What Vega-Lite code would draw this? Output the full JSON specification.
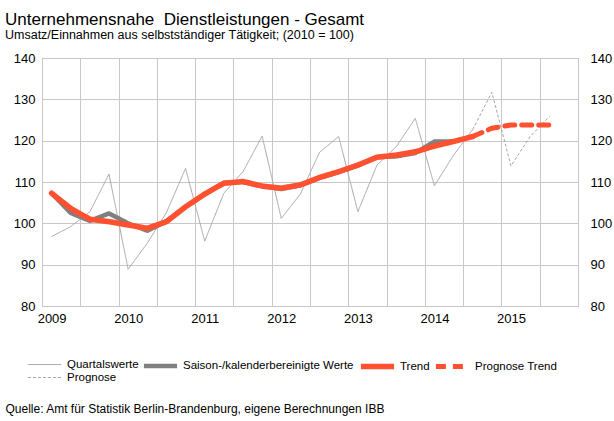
{
  "$schema": "https://vega.github.io/schema/vega-lite/v6.json",
  "width": 536,
  "height": 248,
  "autosize": {"type": "none"},
  "padding": {"left": 42, "top": 58, "right": 36, "bottom": 115},
  "background": "white",
  "title": {
    "text": "Unternehmensnahe\u00a0 Dienstleistungen - Gesamt",
    "subtitle": "Umsatz/Einnahmen aus selbstständiger Tätigkeit; (2010 = 100)",
    "anchor": "start",
    "frame": "group",
    "dx": -37,
    "offset": 10,
    "font": "Liberation Sans",
    "fontSize": 17,
    "fontWeight": "normal",
    "color": "#000000",
    "subtitleFont": "Liberation Sans",
    "subtitleFontSize": 12.5,
    "subtitleColor": "#000000",
    "subtitlePadding": 0
  },
  "config": {
    "view": {"stroke": "#a6a6a6", "strokeWidth": 1},
    "font": "Liberation Sans",
    "axis": {
      "labelFont": "Liberation Sans",
      "labelFontSize": 13,
      "labelColor": "#000000",
      "gridColor": "#c8c8c8",
      "gridWidth": 1,
      "domain": false,
      "ticks": false
    }
  },
  "datasets": {
    "d": [
      {"t": 2009.0, "series": "Quartalswerte", "v": 96.8},
      {"t": 2009.25, "series": "Quartalswerte", "v": 99.2},
      {"t": 2009.5, "series": "Quartalswerte", "v": 102.8},
      {"t": 2009.75, "series": "Quartalswerte", "v": 111.9},
      {"t": 2010.0, "series": "Quartalswerte", "v": 88.9},
      {"t": 2010.25, "series": "Quartalswerte", "v": 95.2},
      {"t": 2010.5, "series": "Quartalswerte", "v": 102.6},
      {"t": 2010.75, "series": "Quartalswerte", "v": 113.3},
      {"t": 2011.0, "series": "Quartalswerte", "v": 95.7},
      {"t": 2011.25, "series": "Quartalswerte", "v": 107.3},
      {"t": 2011.5, "series": "Quartalswerte", "v": 112.5},
      {"t": 2011.75, "series": "Quartalswerte", "v": 121.1},
      {"t": 2012.0, "series": "Quartalswerte", "v": 101.2},
      {"t": 2012.25, "series": "Quartalswerte", "v": 107.1},
      {"t": 2012.5, "series": "Quartalswerte", "v": 117.2},
      {"t": 2012.75, "series": "Quartalswerte", "v": 121.0},
      {"t": 2013.0, "series": "Quartalswerte", "v": 102.8},
      {"t": 2013.25, "series": "Quartalswerte", "v": 114.1},
      {"t": 2013.5, "series": "Quartalswerte", "v": 118.5},
      {"t": 2013.75, "series": "Quartalswerte", "v": 125.4},
      {"t": 2014.0, "series": "Quartalswerte", "v": 109.1},
      {"t": 2014.25, "series": "Quartalswerte", "v": 116.5},
      {"t": 2014.5, "series": "Quartalswerte", "v": 122.7},
      {"t": 2014.5, "series": "Prognose", "v": 122.7},
      {"t": 2014.75, "series": "Prognose", "v": 131.7},
      {"t": 2015.0, "series": "Prognose", "v": 113.9},
      {"t": 2015.25, "series": "Prognose", "v": 121.0},
      {"t": 2015.5, "series": "Prognose", "v": 125.8},
      {"t": 2009.0, "series": "Saison-/kalenderbereinigte Werte", "v": 107.3},
      {"t": 2009.25, "series": "Saison-/kalenderbereinigte Werte", "v": 102.5},
      {"t": 2009.5, "series": "Saison-/kalenderbereinigte Werte", "v": 100.6},
      {"t": 2009.75, "series": "Saison-/kalenderbereinigte Werte", "v": 102.4},
      {"t": 2010.0, "series": "Saison-/kalenderbereinigte Werte", "v": 100.0},
      {"t": 2010.25, "series": "Saison-/kalenderbereinigte Werte", "v": 98.2},
      {"t": 2010.5, "series": "Saison-/kalenderbereinigte Werte", "v": 100.5},
      {"t": 2010.75, "series": "Saison-/kalenderbereinigte Werte", "v": 104.0},
      {"t": 2011.0, "series": "Saison-/kalenderbereinigte Werte", "v": 107.0},
      {"t": 2011.25, "series": "Saison-/kalenderbereinigte Werte", "v": 109.8},
      {"t": 2011.5, "series": "Saison-/kalenderbereinigte Werte", "v": 110.0},
      {"t": 2011.75, "series": "Saison-/kalenderbereinigte Werte", "v": 109.0},
      {"t": 2012.0, "series": "Saison-/kalenderbereinigte Werte", "v": 108.3},
      {"t": 2012.25, "series": "Saison-/kalenderbereinigte Werte", "v": 109.2},
      {"t": 2012.5, "series": "Saison-/kalenderbereinigte Werte", "v": 111.0},
      {"t": 2012.75, "series": "Saison-/kalenderbereinigte Werte", "v": 112.4},
      {"t": 2013.0, "series": "Saison-/kalenderbereinigte Werte", "v": 114.0},
      {"t": 2013.25, "series": "Saison-/kalenderbereinigte Werte", "v": 116.0},
      {"t": 2013.5, "series": "Saison-/kalenderbereinigte Werte", "v": 116.2},
      {"t": 2013.75, "series": "Saison-/kalenderbereinigte Werte", "v": 117.0},
      {"t": 2014.0, "series": "Saison-/kalenderbereinigte Werte", "v": 119.8},
      {"t": 2014.25, "series": "Saison-/kalenderbereinigte Werte", "v": 119.8},
      {"t": 2014.5, "series": "Saison-/kalenderbereinigte Werte", "v": 121.0},
      {"t": 2009.0, "series": "Trend", "v": 107.3},
      {"t": 2009.25, "series": "Trend", "v": 103.6},
      {"t": 2009.5, "series": "Trend", "v": 101.0},
      {"t": 2009.75, "series": "Trend", "v": 100.4},
      {"t": 2010.0, "series": "Trend", "v": 99.6},
      {"t": 2010.25, "series": "Trend", "v": 98.8},
      {"t": 2010.5, "series": "Trend", "v": 100.4},
      {"t": 2010.75, "series": "Trend", "v": 104.0},
      {"t": 2011.0, "series": "Trend", "v": 107.1},
      {"t": 2011.25, "series": "Trend", "v": 109.7},
      {"t": 2011.5, "series": "Trend", "v": 110.1},
      {"t": 2011.75, "series": "Trend", "v": 109.0},
      {"t": 2012.0, "series": "Trend", "v": 108.5},
      {"t": 2012.25, "series": "Trend", "v": 109.3},
      {"t": 2012.5, "series": "Trend", "v": 111.1},
      {"t": 2012.75, "series": "Trend", "v": 112.5},
      {"t": 2013.0, "series": "Trend", "v": 114.1},
      {"t": 2013.25, "series": "Trend", "v": 116.0},
      {"t": 2013.5, "series": "Trend", "v": 116.5},
      {"t": 2013.75, "series": "Trend", "v": 117.3},
      {"t": 2014.0, "series": "Trend", "v": 118.7},
      {"t": 2014.25, "series": "Trend", "v": 119.8},
      {"t": 2014.5, "series": "Trend", "v": 121.0},
      {"t": 2014.5, "series": "Prognose Trend", "v": 121.0},
      {"t": 2014.75, "series": "Prognose Trend", "v": 123.0},
      {"t": 2015.0, "series": "Prognose Trend", "v": 123.8},
      {"t": 2015.25, "series": "Prognose Trend", "v": 123.8},
      {"t": 2015.5, "series": "Prognose Trend", "v": 123.8}
    ]
  },
  "data": {"name": "d"},
  "encoding": {
    "x": {
      "field": "t",
      "type": "quantitative",
      "scale": {"domain": [2008.875, 2015.875], "nice": false, "zero": false},
      "axis": {
        "values": [2008.875, 2009.375, 2009.875, 2010.375, 2010.875, 2011.375, 2011.875, 2012.375, 2012.875, 2013.375, 2013.875, 2014.375, 2014.875, 2015.375, 2015.875],
        "labelExpr": "(datum.value - floor(datum.value)) > 0.8 && datum.value < 2015.5 ? '' + (floor(datum.value) + 1) : ''",
        "labelOffset": 9.6,
        "labelPadding": 6,
        "labelOverlap": false,
        "labelFlush": false,
        "title": "Quelle: Amt für Statistik Berlin-Brandenburg, eigene Berechnungen IBB",
        "titleFont": "Liberation Sans",
        "titleFontSize": 12,
        "titleFontWeight": "normal",
        "titleColor": "#000000",
        "titleAnchor": "start",
        "titleAlign": "left",
        "titleBaseline": "alphabetic",
        "titleX": -37,
        "titleY": 106
      }
    },
    "y": {
      "field": "v",
      "type": "quantitative",
      "scale": {"domain": [80, 140], "nice": false, "zero": false},
      "axis": null
    },
    "color": {
      "field": "series",
      "type": "ordinal",
      "scale": {
        "type": "ordinal",
        "domain": ["Quartalswerte", "Saison-/kalenderbereinigte Werte", "Trend", "Prognose Trend", "Prognose"],
        "range": ["#a6a6a6", "#808080", "#ff5030", "#ff5030", "#a6a6a6"]
      },
      "legend": {
        "title": null,
        "orient": "none",
        "legendX": -17,
        "legendY": 289,
        "direction": "horizontal",
        "columns": 4,
        "gridAlign": "none",
        "symbolType": "stroke",
        "symbolSize": 1100,
        "labelFont": "Liberation Sans",
        "labelFontSize": 11.5,
        "labelColor": "#000000",
        "labelAlign": "left",
        "labelLimit": 0,
        "labelOffset": 3,
        "columnPadding": -5,
        "rowPadding": -18
      }
    },
    "strokeDash": {
      "field": "series",
      "type": "ordinal",
      "scale": {
        "type": "ordinal",
        "domain": ["Quartalswerte", "Saison-/kalenderbereinigte Werte", "Trend", "Prognose Trend", "Prognose"],
        "range": [[1, 0], [1, 0], [1, 0], [10, 7], [3, 2]]
      }
    },
    "strokeWidth": {
      "field": "series",
      "type": "ordinal",
      "scale": {
        "type": "ordinal",
        "domain": ["Quartalswerte", "Saison-/kalenderbereinigte Werte", "Trend", "Prognose Trend", "Prognose"],
        "range": [1, 4.5, 5.5, 5, 1]
      }
    }
  },
  "layer": [
    {
      "transform": [{"filter": "datum.series == 'Quartalswerte' || datum.series == 'Prognose'"}],
      "mark": {"type": "line"}
    },
    {
      "transform": [{"filter": "datum.series == 'Saison-/kalenderbereinigte Werte'"}],
      "mark": {"type": "line", "strokeJoin": "round"}
    },
    {
      "transform": [{"filter": "datum.series == 'Trend'"}],
      "mark": {"type": "line", "strokeJoin": "round", "strokeCap": "round"},
      "encoding": {"y": {"field": "v", "type": "quantitative", "axis": {"orient": "left", "title": null, "grid": true, "values": [80, 90, 100, 110, 120, 130, 140], "labelPadding": 7}}}
    },
    {
      "transform": [{"filter": "datum.series == 'Prognose Trend'"}],
      "mark": {"type": "line", "strokeCap": "round"},
      "encoding": {"y": {"field": "v", "type": "quantitative", "axis": {"orient": "right", "title": null, "grid": false, "values": [80, 90, 100, 110, 120, 130, 140], "labelPadding": 12}}}
    }
  ],
  "resolve": {"axis": {"y": "independent"}}
}
